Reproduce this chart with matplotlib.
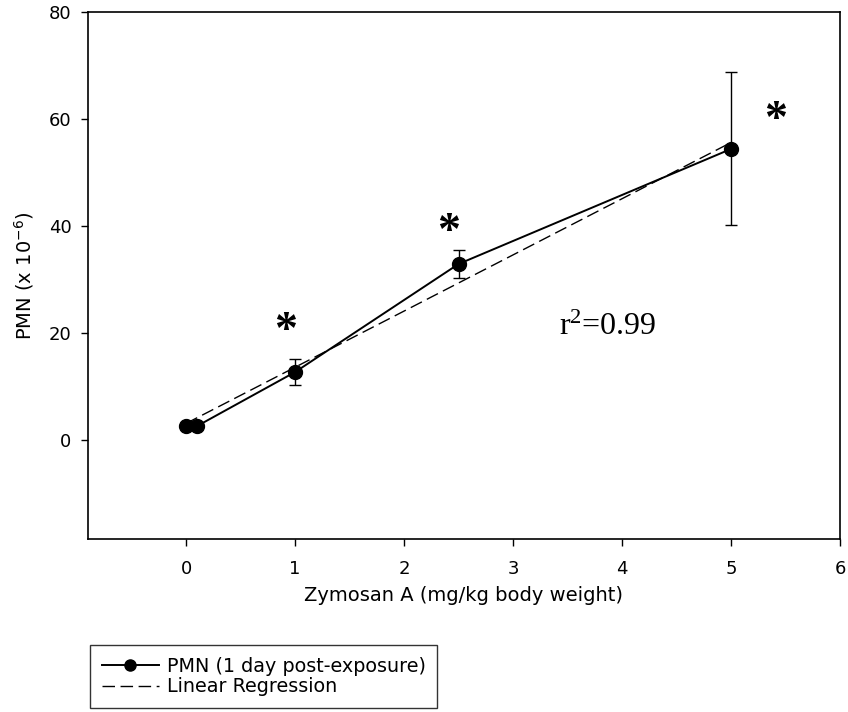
import numpy as np
import matplotlib
matplotlib.use('Agg')
import matplotlib.pyplot as plt

# PMN counts vs zymosan dose
dose = [0, 0.1, 1, 2.5, 5]
pmn = [2.6, 2.6, 12.7, 32.9, 54.4]
pmn_err = [0, 0, 2.5, 2.7, 14.3]

# regression line end points
reg_x = [0, 5]
reg_y = [3.1, 55.6]

# significance stars
star_x = [0.91, 2.41, 5.41]
star_y = [22.8, 41.3, 62.2]

xticks = [0, 1, 2, 3, 4, 5, 6]
yticks = [0, 20, 40, 60, 80]

plt.rcParams['mathtext.fontset'] = 'custom'
plt.rcParams['mathtext.rm'] = 'Liberation Serif'
plt.rcParams['mathtext.sf'] = 'DejaVu Sans'

fig = plt.figure(figsize=(8.48, 7.12), dpi=100)
ax = fig.add_axes([88 / 848, 1 - 539 / 712, (840 - 88) / 848, (539 - 12) / 712])

ax.errorbar(dose, pmn, yerr=pmn_err, fmt='none', ecolor='k', elinewidth=1.0,
            capsize=4.5, capthick=1.0)
line_pmn, = ax.plot(dose, pmn, color='k', lw=1.4, marker='o', ms=10,
                    label='PMN (1 day post-exposure)')
line_reg, = ax.plot(reg_x, reg_y, color='k', lw=1.0, dashes=(9, 4),
                    label='Linear Regression')

for sx, sy in zip(star_x, star_y):
    ax.annotate('*', (sx, sy), fontsize=33, family='Liberation Serif', weight='bold',
                ha='center', va='center', xytext=(0, -10), textcoords='offset points')

ax.text(3.87, 21.1, r'$\mathrm{r^{2}}$=0.99', fontsize=23, family='Liberation Serif',
        ha='center', va='center')

ax.set_xlim(-0.9, 6.0)
ax.set_ylim(-18.5, 80)
ax.set_xticks(xticks)
ax.set_yticks(yticks)
ax.tick_params(axis='both', direction='out', length=5, width=1, labelsize=13)
ax.tick_params(axis='y', pad=7)
ax.tick_params(axis='x', pad=10)
for s in ax.spines.values():
    s.set_linewidth(1.2)

ax.set_xlabel('Zymosan A (mg/kg body weight)', fontsize=14, labelpad=6)
ax.set_ylabel(r'PMN (x 10$^{\mathsf{-6}}$)', fontsize=14, labelpad=9)

leg = fig.legend(handles=[line_pmn, line_reg], loc='upper left',
                 bbox_to_anchor=(90 / 848, 1 - 645 / 712), fontsize=13.8,
                 frameon=True, fancybox=False, edgecolor='k', borderaxespad=0,
                 handlelength=3.0, handletextpad=0.4, labelspacing=0.1,
                 borderpad=0.6, markerscale=0.8)
leg.get_frame().set_linewidth(1.0)

fig.savefig('out.png', dpi=100)
